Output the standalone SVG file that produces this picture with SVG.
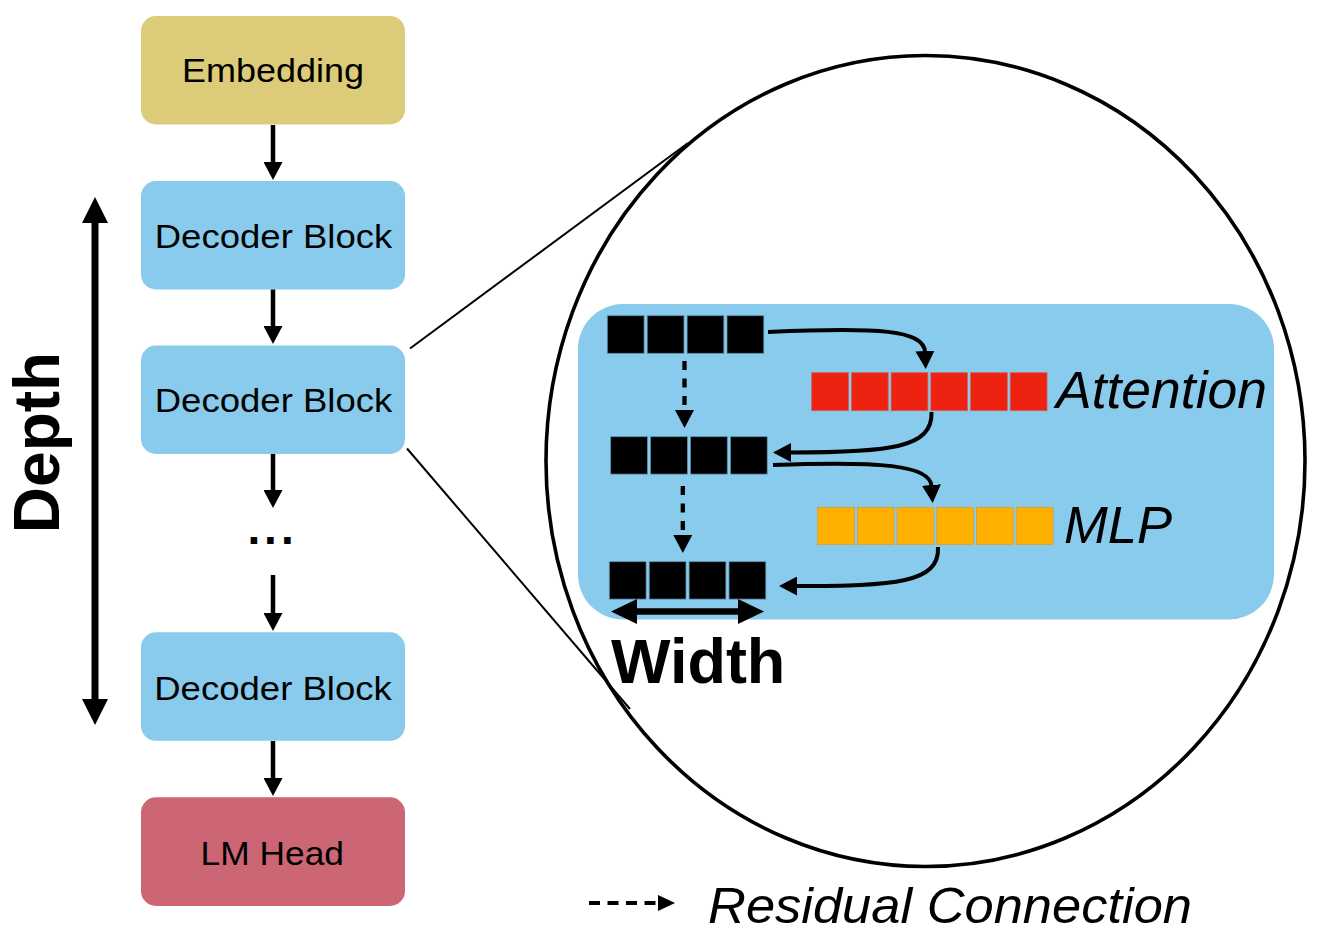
<svg xmlns="http://www.w3.org/2000/svg" width="1329" height="941" viewBox="0 0 1329 941">
<style>
.node{stroke:none}
.blue{fill:#88CBEC}
.lbl{font-family:"Liberation Sans",Arial,sans-serif;font-size:33px;fill:#000}
.it{font-family:"Liberation Sans",Arial,sans-serif;font-style:italic;fill:#000}
.bold{font-family:"Liberation Sans",Arial,sans-serif;font-weight:bold;fill:#000}
.conn{fill:none;stroke:#000;stroke-width:4.5}
.curve{fill:none;stroke:#000;stroke-width:4}
.dash{fill:none;stroke:#000;stroke-width:4.3;stroke-dasharray:9 8.5}
.thin{fill:none;stroke:#000;stroke-width:2}
.blk rect{fill:#000;stroke:#5f8fab;stroke-width:0.8}
.red rect{fill:#EE2211;stroke:#d06060;stroke-width:0.8}
.org rect{fill:#FFB000;stroke:#d0a040;stroke-width:0.8}
</style>
<defs>
<marker id="ah" viewBox="0 0 18 19" markerWidth="18" markerHeight="19" refX="1" refY="9.5" orient="auto" markerUnits="userSpaceOnUse"><path d="M0,0 L18,9.5 L0,19 z" fill="#000"/></marker>
<marker id="big" viewBox="0 0 26 26" markerWidth="26" markerHeight="26" refX="1" refY="13" orient="auto-start-reverse" markerUnits="userSpaceOnUse"><path d="M0,0 L26,13 L0,26 z" fill="#000"/></marker>
<marker id="wh" viewBox="0 0 26 25" markerWidth="26" markerHeight="25" refX="1" refY="12.5" orient="auto-start-reverse" markerUnits="userSpaceOnUse"><path d="M0,0 L26,12.5 L0,25 z" fill="#000"/></marker>
<marker id="lg" viewBox="0 0 17 16" markerWidth="17" markerHeight="16" refX="0" refY="8" orient="auto" markerUnits="userSpaceOnUse"><path d="M0,0 L17,8 L0,16 z" fill="#000"/></marker>
</defs>

<g id="zoom-ellipse">
<ellipse cx="925.5" cy="461" rx="379.5" ry="405.5" fill="none" stroke="#000" stroke-width="3.6"/>
<path class="thin" d="M410 348.5 L688 143"/>
<path class="thin" d="M407 448.5 L630 709"/>
</g>

<g id="embedding"><rect class="node" x="141" y="16" width="264" height="108.5" rx="15" fill="#DCCB78"/><text class="lbl" x="273" y="82.3" text-anchor="middle" textLength="182" lengthAdjust="spacingAndGlyphs">Embedding</text></g>
<g id="decoder1"><rect class="node blue" x="141" y="181" width="264" height="108.5" rx="15"/><text class="lbl" x="273.5" y="248.3" text-anchor="middle" textLength="237.5" lengthAdjust="spacingAndGlyphs">Decoder Block</text></g>
<g id="decoder2"><rect class="node blue" x="141" y="345.5" width="264" height="108.5" rx="15"/><text class="lbl" x="273.5" y="411.7" text-anchor="middle" textLength="237.5" lengthAdjust="spacingAndGlyphs">Decoder Block</text></g>
<g id="ellipsis"><text class="bold" font-size="46" x="247.5 264 281" y="544">...</text></g>
<g id="decoder3"><rect class="node blue" x="141" y="632.3" width="264" height="108.5" rx="15"/><text class="lbl" x="273" y="700" text-anchor="middle" textLength="237.5" lengthAdjust="spacingAndGlyphs">Decoder Block</text></g>
<g id="lmhead"><rect class="node" x="141" y="797.3" width="264" height="108.7" rx="15" fill="#CC6675"/><text class="lbl" x="272.3" y="865" text-anchor="middle" textLength="143.5" lengthAdjust="spacingAndGlyphs">LM Head</text></g>

<g id="depth">
<path d="M95 222 V700" stroke="#000" stroke-width="7" fill="none" marker-start="url(#big)" marker-end="url(#big)"/>
<text class="bold" font-size="64" transform="translate(58.5,442.5) rotate(-90)" text-anchor="middle">Depth</text>
</g>

<g id="detail">
<rect x="578" y="304" width="696" height="315.5" rx="45" class="blue"/>
<g id="row1" class="blk">
<rect x="607.3" y="315.7" width="36.8" height="37.6"/><rect x="647.2" y="315.7" width="36.8" height="37.6"/><rect x="687.1" y="315.7" width="36.8" height="37.6"/><rect x="727" y="315.7" width="36.8" height="37.6"/>
</g>
<g id="row2" class="blk">
<rect x="610.7" y="436.7" width="36.8" height="37.4"/><rect x="650.6" y="436.7" width="36.8" height="37.4"/><rect x="690.5" y="436.7" width="36.8" height="37.4"/><rect x="730.4" y="436.7" width="36.8" height="37.4"/>
</g>
<g id="row3" class="blk">
<rect x="609.3" y="561.7" width="36.8" height="37.4"/><rect x="649.2" y="561.7" width="36.8" height="37.4"/><rect x="689.1" y="561.7" width="36.8" height="37.4"/><rect x="729" y="561.7" width="36.8" height="37.4"/>
</g>
<g id="attention" class="red">
<rect x="811.7" y="372.7" width="36.8" height="38"/><rect x="851.4" y="372.7" width="36.8" height="38"/><rect x="891.1" y="372.7" width="36.8" height="38"/><rect x="930.8" y="372.7" width="36.8" height="38"/><rect x="970.5" y="372.7" width="36.8" height="38"/><rect x="1010.2" y="372.7" width="36.8" height="38"/>
<text class="it" font-size="51" x="1056" y="408.3" textLength="211" lengthAdjust="spacingAndGlyphs">Attention</text>
</g>
<g id="mlp" class="org">
<rect x="817.7" y="507.3" width="36.8" height="37.2"/><rect x="857.4" y="507.3" width="36.8" height="37.2"/><rect x="897.1" y="507.3" width="36.8" height="37.2"/><rect x="936.8" y="507.3" width="36.8" height="37.2"/><rect x="976.5" y="507.3" width="36.8" height="37.2"/><rect x="1016.2" y="507.3" width="36.8" height="37.2"/>
<text class="it" font-size="51" x="1064" y="543.3" textLength="108" lengthAdjust="spacingAndGlyphs">MLP</text>
</g>
<g id="width">
<path d="M636 611.5 H739" stroke="#000" stroke-width="6.5" fill="none" marker-start="url(#wh)" marker-end="url(#wh)"/>
<text class="bold" font-size="63" x="611" y="683">Width</text>
</g>
</g>

<g id="connectors">
<path class="conn" d="M273 125 V163" marker-end="url(#ah)"/>
<path class="conn" d="M273 289.5 V327" marker-end="url(#ah)"/>
<path class="conn" d="M273 454 V491" marker-end="url(#ah)"/>
<path class="conn" d="M273 575 V614" marker-end="url(#ah)"/>
<path class="conn" d="M273 741 V779" marker-end="url(#ah)"/>
<path class="curve" d="M768 332 C 880 327, 924 330, 925 352" marker-end="url(#ah)"/>
<path class="curve" d="M931.5 412 C 933 448, 890 452.5, 790 452.5" marker-end="url(#ah)"/>
<path class="curve" d="M773 465 C 880 461, 930 465, 931.5 486" marker-end="url(#ah)"/>
<path class="curve" d="M938 547 C 940 583, 895 586, 796 586" marker-end="url(#ah)"/>
<path class="dash" d="M684.5 361 V411" marker-end="url(#ah)"/>
<path class="dash" d="M682.8 486 V536" marker-end="url(#ah)"/>
</g>

<g id="legend">
<path d="M589 903 H658" stroke="#000" stroke-width="4" stroke-dasharray="11 7.5" fill="none" marker-end="url(#lg)"/>
<text class="it" font-size="50" x="708" y="923" textLength="484" lengthAdjust="spacingAndGlyphs">Residual Connection</text>
</g>
</svg>
